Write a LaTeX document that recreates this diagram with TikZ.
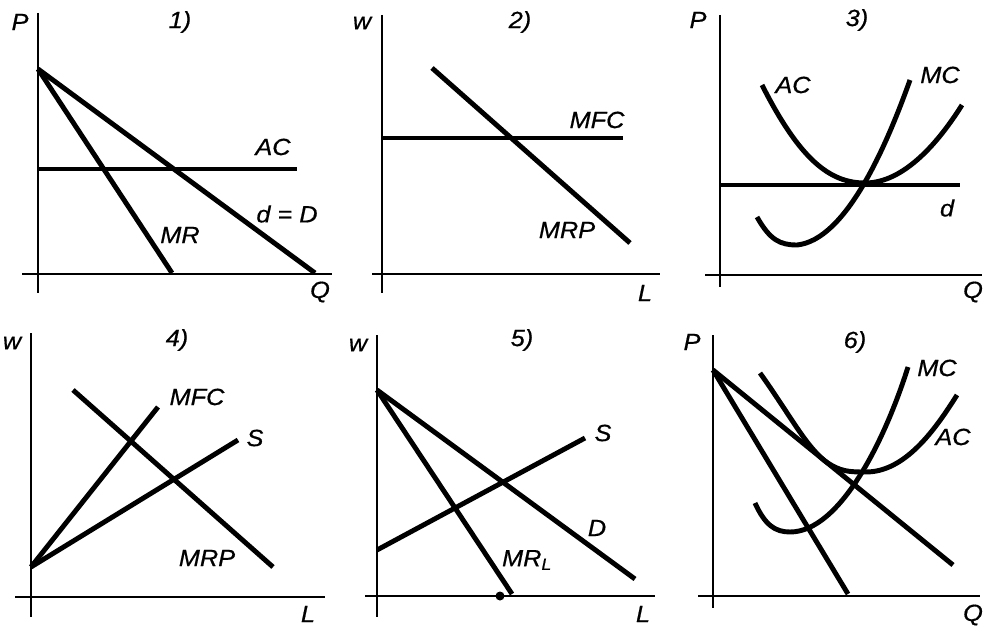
\documentclass[tikz,border=0pt]{standalone}
\usepackage{fontspec}
\setmainfont{Liberation Sans}[FakeStretch=1.08, FakeBold=0.6]
\tikzset{
  axis/.style={line width=1.4pt},
  curve/.style={line width=4.2pt},
  lbl/.style={font=\fontsize{20}{23}\selectfont\itshape, inner sep=0pt},
}

\begin{document}
\begin{tikzpicture}[x=0.03cm, y=-0.03cm]
  \useasboundingbox (0,0) rectangle (983,628);

  % 1) monopoly, constant AC
  \draw[axis] (38,13) -- (38,293);
  \draw[axis] (22,274) -- (332,274);
  \coordinate (top1) at (38,69);
  \draw[curve] (top1) -- (315,273);
  \draw[curve] (top1) -- (172,273);
  \draw[curve] (38,169) -- (297,169);
  \node[lbl] (p1) at (20,22) {P};
  \node[lbl] (n1) at (180,22) {1)};
  \node[lbl] (ac1) at (273,147) {AC};
  \node[lbl] (dd1) at (287,214) {d = D};
  \node[lbl] (mr1) at (180,235) {MR};
  \node[lbl] (q1) at (320,292) {Q};

  % 2) labour market, flat MFC
  \draw[axis] (382,15) -- (382,293);
  \draw[axis] (372,274) -- (660,274);
  \draw[curve] (432,68) -- (630,243);
  \draw[curve] (382,138) -- (623,138);
  \node[lbl] (w2) at (362,23) {w};
  \node[lbl] (n2) at (520,22) {2)};
  \node[lbl] (mfc2) at (597,120) {MFC};
  \node[lbl] (mrp2) at (567,230) {MRP};
  \node[lbl] (l2) at (645,293) {L};

  % 3) perfect competition
  \draw[axis] (720,15) -- (720,287);
  \draw[axis] (705,275) -- (982,275);
  \draw[curve] (720,185) -- (960,185);
  \coordinate (min3) at (865,183);
  \draw[curve] (762,85) .. controls (800,160) and (830,183) .. (min3)
    .. controls (905,183) and (940,140) .. (962,105);
  \draw[curve] (757,217) .. controls (770,240) and (780,245) .. (797,245)
    .. controls (845,240) and (885,150) .. (910,80);
  \node[lbl] (p3) at (698,20) {P};
  \node[lbl] (n3) at (857,20) {3)};
  \node[lbl] (ac3) at (793,85) {AC};
  \node[lbl] (mc3) at (940,75) {MC};
  \node[lbl] (dd3) at (947,208) {d};
  \node[lbl] (q3) at (973,292) {Q};

  % 4) monopsony
  \draw[axis] (31,333) -- (31,617);
  \draw[axis] (15,597) -- (325,597);
  \coordinate (o4) at (31,567);
  \draw[curve] (o4) -- (158,407);
  \draw[curve] (o4) -- (238,440);
  \draw[curve] (73,390) -- (273,567);
  \node[lbl] (w4) at (12,343) {w};
  \node[lbl] (n4) at (177,340) {4)};
  \node[lbl] (mfc4) at (197,397) {MFC};
  \node[lbl] (s4) at (255,438) {S};
  \node[lbl] (mrp4) at (207,558) {MRP};
  \node[lbl] (l4) at (308,614) {L};

  % 5) monopoly union
  \draw[axis] (377,335) -- (377,617);
  \draw[axis] (365,596) -- (655,596);
  \coordinate (top5) at (377,390);
  \draw[curve] (top5) -- (635,579);
  \draw[curve] (top5) -- (512,594);
  \draw[curve] (377,550) -- (585,438);
  \fill (500,596) circle[radius=4.5];
  \node[lbl] (w5) at (358,345) {w};
  \node[lbl] (n5) at (522,340) {5)};
  \node[lbl] (s5) at (603,433) {S};
  \node[lbl] (dd5) at (597,528) {D};
  \node[lbl] (mr5) at (527,560) {MR\textsubscript{L}};
  \node[lbl] (l5) at (643,614) {L};

  % 6) monopolistic competition
  \draw[axis] (713,335) -- (713,608);
  \draw[axis] (698,596) -- (980,596);
  \coordinate (top6) at (713,370);
  \draw[curve] (top6) -- (848,594);
  \draw[curve] (top6) -- (953,565);
  \draw[curve] (760,373) .. controls (790,415) and (805,445) .. (825,461)
    .. controls (840,472) and (850,472) .. (866,472)
    .. controls (905,472) and (935,430) .. (957,395);
  \draw[curve] (755,503) .. controls (765,525) and (775,532) .. (790,532)
    .. controls (840,532) and (885,440) .. (908,367);
  \node[lbl] (p6) at (692,342) {P};
  \node[lbl] (n6) at (855,342) {6)};
  \node[lbl] (mc6) at (937,368) {MC};
  \node[lbl] (ac6) at (953,437) {AC};
  \node[lbl] (q6) at (973,615) {Q};
\end{tikzpicture}
\end{document}
